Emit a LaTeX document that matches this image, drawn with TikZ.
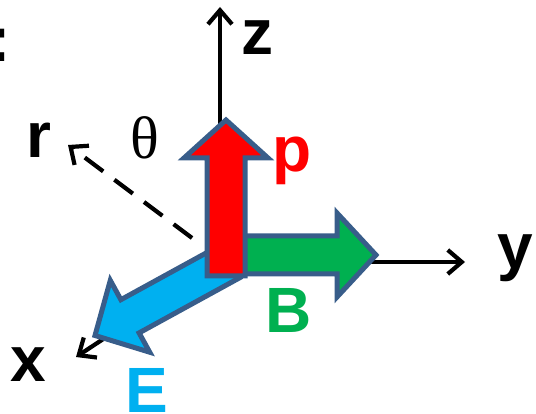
\documentclass[tikz,border=0pt]{standalone}
\usepackage{fontspec}
\setmainfont{Liberation Sans}
\newfontfamily\grserif{Liberation Serif}
\usetikzlibrary{arrows.meta}
\definecolor{edgeblue}{HTML}{385D8A}
\definecolor{pred}{HTML}{FF0000}
\definecolor{bgreen}{HTML}{00B050}
\definecolor{ecyan}{HTML}{00B0F0}
\begin{document}
\begin{tikzpicture}[x=1pt,y=-1pt,
  axis/.style={line width=4.2pt, -{Straight Barb[length=14pt,width=24pt]}},
  raxis/.style={line width=4.2pt, dash pattern=on 23pt off 14pt, -{Straight Barb[length=14pt,width=24pt]}},
  blockarrow/.style={draw=edgeblue, line width=5pt, line join=miter},
  lbl/.style={font=\fontsize{64}{64}\selectfont\bfseries, inner sep=0pt}]
\useasboundingbox (0,0) rectangle (536,414);
% axes
\coordinate (O) at (220,262);
\coordinate (zt) at (220,7);
\coordinate (yt) at (465,262);
\coordinate (xt) at (76,357);
\coordinate (rs) at (192,238);
\coordinate (rt) at (68,145);
\draw[axis] (O) -- (zt);
\draw[axis] (O) -- (yt);
\draw[axis] (O) -- (xt);
\draw[raxis] (rs) -- (rt);
% E (blue) block arrow
\draw[blockarrow, fill=ecyan] (239.8,277.7) -- (139.1,332.9) -- (149.7,352.2) -- (95,335.5)
  -- (110.3,280.4) -- (120.9,299.7) -- (221.6,244.5) -- cycle;
% B (green) block arrow
\draw[blockarrow, fill=bgreen] (240,236) -- (337,236) -- (337,213) -- (376,255)
  -- (337,297) -- (337,274) -- (240,274) -- cycle;
% p (red) block arrow
\draw[blockarrow, fill=pred] (207,276) -- (207,158) -- (184,158) -- (226,120)
  -- (268,158) -- (245,158) -- (245,276) -- cycle;
% labels
\node[lbl, anchor=base east] (colon) at (11,62) {:};
\node[lbl] (zl) at (257,38) {z};
\node[lbl] (yl) at (515,258) {y};
\node[lbl] (xl) at (28,365) {x};
\node[lbl] (rl) at (39,140) {r};
\node[lbl, text=pred] (pl) at (292,161) {p};
\node[lbl, text=bgreen] (bl) at (289,310) {B};
\node[lbl, text=ecyan] (el) at (147,390) {E};
\node[inner sep=0pt, font=\fontsize{60}{60}\selectfont\grserif] (th) at (145,138) {θ};
\end{tikzpicture}
\end{document}
